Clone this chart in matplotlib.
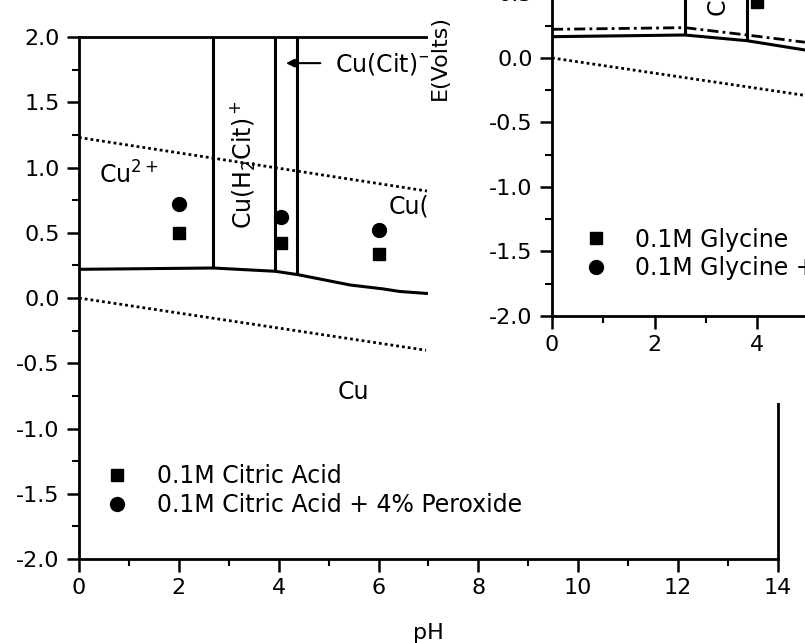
import matplotlib.pyplot as plt
from matplotlib.patches import Rectangle
from matplotlib.lines import Line2D
from matplotlib.ticker import MultipleLocator, FixedLocator, FormatStrFormatter

plt.rcParams['font.family'] = ['DejaVu Sans']
plt.rcParams['font.size'] = 16
plt.rcParams['axes.unicode_minus'] = False
plt.rcParams['mathtext.fontset'] = 'dejavusans'

# citric acid diagram (main panel)
cit_bound_pH = [0, 2.69, 3.93, 4.37, 4.77, 5.43, 6.09, 6.43, 6.97]
cit_bound_E = [0.22, 0.23, 0.205, 0.18, 0.15, 0.10, 0.07, 0.05, 0.035]
cit_wall_pH = [2.69, 3.93, 4.37]
cit_wall_E = [0.23, 0.205, 0.18]
o2_pH = [0, 6.97]
o2_E = [1.23, 0.82]
h2_pH = [0, 6.95]
h2_E = [0.0, -0.40]
cit_pH = [2.0, 4.05, 6.0]
cit_E = [0.50, 0.42, 0.34]
cit_perox_E = [0.72, 0.62, 0.52]

# glycine diagram (inset, top right, mostly cut off)
gly_bound_pH = [0, 2.59, 3.80, 4.93]
gly_bound_E = [0.165, 0.178, 0.134, 0.062]
gly_dd_E = [0.222, 0.235, 0.178, 0.122]
gly_wall_pH = [2.59, 3.80]
gly_wall_E = [0.178, 0.134]
gly_h2_pH = [0, 4.93]
gly_h2_E = [0.0, -0.29]
gly_pH = [4.0]
gly_E = [0.43]
gly_xticks = [0, 2, 4]
gly_xminor = [1, 3, 5]
gly_yticks = [-2.0, -1.5, -1.0, -0.5, 0.0, 0.5]
gly_yminor = [-1.75, -1.25, -0.75, -0.25, 0.25]

DOT = (0, (1, 1.1))
DASHDOT = (0, (4, 1.5, 1, 1.5))


def style_axes(ax):
    ax.set_xlim(0, 14)
    ax.set_ylim(-2, 2)
    ax.xaxis.set_major_locator(MultipleLocator(2))
    ax.xaxis.set_minor_locator(MultipleLocator(1))
    ax.yaxis.set_major_locator(MultipleLocator(0.5))
    ax.yaxis.set_minor_locator(MultipleLocator(0.25))
    ax.xaxis.set_major_formatter(FormatStrFormatter('%d'))
    ax.yaxis.set_major_formatter(FormatStrFormatter('%.1f'))
    ax.tick_params(which='major', direction='out', length=9, width=1.8, pad=5)
    ax.tick_params(which='minor', direction='out', length=5, width=1.5)
    for s in ax.spines.values():
        s.set_linewidth(2)


fig = plt.figure(figsize=(8.05, 6.43), dpi=100)

ax = fig.add_axes([0.0981, 0.1306, 0.8683, 0.8118])
ax.set_zorder(0)
style_axes(ax)

ax.plot(cit_bound_pH, cit_bound_E, 'k-', lw=2.2)
ax.vlines(cit_wall_pH, cit_wall_E, 2.0, colors='k', lw=2.2)
ax.plot(o2_pH, o2_E, color='k', ls=DOT, lw=2)
ax.plot(h2_pH, h2_E, color='k', ls=DOT, lw=2)
ax.plot(cit_pH, cit_E, 'ks', ms=9, ls='none', label='0.1M Citric Acid')
ax.plot(cit_pH, cit_perox_E, 'ko', ms=10, ls='none',
        label='0.1M Citric Acid + 4% Peroxide')

ax.text(1.0, 0.94, 'Cu$^{2+}$', ha='center', va='center', fontsize=17)
ax.text(3.29, 1.02, 'Cu(H$_2$Cit)$^+$', rotation=90, ha='center', va='center',
        fontsize=17)
ax.annotate('', xy=(4.09, 1.80), xytext=(4.89, 1.80),
            arrowprops=dict(arrowstyle='-|>', color='k', lw=1.5, mutation_scale=12))
ax.text(5.13, 1.79, 'Cu(Cit)$^{-}$', ha='left', va='center', fontsize=17)
ax.text(6.2, 0.70, 'Cu(', ha='left', va='center', fontsize=17)
ax.text(5.5, -0.72, 'Cu', ha='center', va='center', fontsize=17)
ax.set_xlabel('pH', labelpad=18)

ax.legend(loc='center left', bbox_to_anchor=(0.52, -1.476),
          bbox_transform=ax.transData, frameon=False, handlelength=1.0,
          handletextpad=1.2, labelspacing=0.2, borderpad=0, borderaxespad=0,
          numpoints=1, fontsize=17)

# white paper of the pasted glycine panel
fig.add_artist(Rectangle((0.5317, 0.3733), 0.6, 0.7, transform=fig.transFigure,
                         facecolor='white', edgecolor='none', zorder=1))

ax2 = fig.add_axes([0.6857, 0.5086, 0.892, 0.8025])
ax2.set_zorder(2)
ax2.set_facecolor('none')
style_axes(ax2)
ax2.xaxis.set_major_locator(FixedLocator(gly_xticks))
ax2.xaxis.set_minor_locator(FixedLocator(gly_xminor))
ax2.yaxis.set_major_locator(FixedLocator(gly_yticks))
ax2.yaxis.set_minor_locator(FixedLocator(gly_yminor))

ax2.plot(gly_bound_pH, gly_bound_E, 'k-', lw=2.2)
ax2.plot(gly_bound_pH, gly_dd_E, color='k', ls=DASHDOT, lw=2)
ax2.vlines(gly_wall_pH, gly_wall_E, 2.0, colors='k', lw=2.2)
ax2.plot(gly_h2_pH, gly_h2_E, color='k', ls=DOT, lw=2)
ax2.plot(gly_pH, gly_E, 'ks', ms=9, ls='none')
ax2.text(3.22, 0.33, 'C', rotation=90, ha='center', va='bottom', fontsize=17)
ax2.set_ylabel('E(Volts)')
ax2.yaxis.set_label_coords(-0.142, 0.5)

gly_handles = [Line2D([], [], color='k', marker='s', ms=9, ls='none'),
               Line2D([], [], color='k', marker='o', ms=10, ls='none')]
ax2.legend(gly_handles, ['0.1M Glycine', '0.1M Glycine +'],
           loc='center left', bbox_to_anchor=(0.62, -1.52),
           bbox_transform=ax2.transData, frameon=False, handlelength=1.0,
           handletextpad=1.15, labelspacing=0.2, borderpad=0, borderaxespad=0,
           fontsize=17)

fig.savefig('out.png', dpi=100)
